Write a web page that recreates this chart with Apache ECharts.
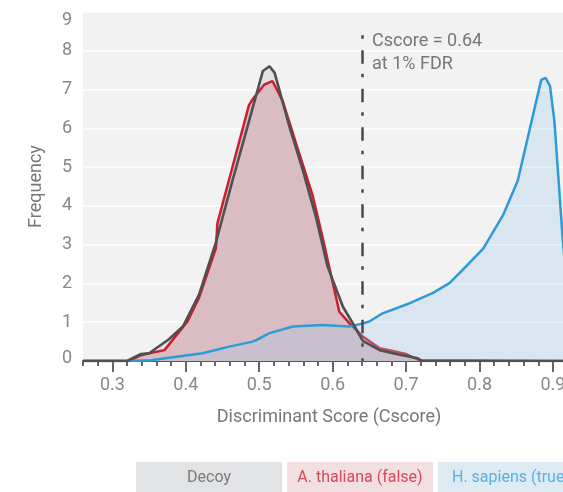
<!DOCTYPE html>
<html>
<head>
<meta charset="utf-8">
<script src="https://cdn.jsdelivr.net/npm/echarts@6/dist/echarts.min.js"></script>
<style>
html,body{margin:0;padding:0;background:#fff;}
#chart{width:563px;height:492px;}
</style>
</head>
<body>
<div id="chart"></div>
<script>
// ---- data ----
const seriesNames = ['Decoy', 'A. thaliana (false)', 'H. sapiens (true)'];

const decoyScore = [0.26, 0.32, 0.339, 0.35, 0.377, 0.396, 0.418, 0.441, 0.464, 0.486, 0.505, 0.514, 0.521, 0.541, 0.559, 0.577, 0.593, 0.614, 0.630, 0.641, 0.664, 0.691, 0.716, 0.722, 0.93];
const decoyFreq  = [0,    0,    0.18,  0.20, 0.56,  0.89,  1.71,  3.06,  4.68,  6.18,  7.48,  7.60,  7.43,  6.05,  4.94,  3.73,  2.44,  1.40,  0.89,  0.52,  0.28,  0.16,  0.07,  0,     0];

const thalScore = [0.26, 0.323, 0.339, 0.35, 0.371, 0.402, 0.418, 0.441, 0.443, 0.459, 0.486, 0.491, 0.507, 0.518, 0.532, 0.55, 0.573, 0.586, 0.609, 0.623, 0.641, 0.664, 0.70, 0.718, 0.93];
const thalFreq  = [0,    0,     0.15,  0.20, 0.28,  1.01,  1.63,  2.91,  3.55,  4.68,  6.60,  6.75,  7.13,  7.22,  6.70,  5.62, 4.25,  3.21,  1.27,  0.97,  0.63,  0.33,  0.18, 0.02,  0];

const sapScore = [0.26, 0.323, 0.352, 0.423, 0.459, 0.491, 0.496, 0.514, 0.546, 0.586, 0.623, 0.641, 0.65, 0.668, 0.705, 0.736, 0.759, 0.777, 0.805, 0.832, 0.852, 0.884, 0.89, 0.896, 0.902, 0.913, 0.925, 0.93];
const sapFreq  = [0,    0,     0.02,  0.20,  0.37,  0.50,  0.54,  0.72,  0.89,  0.93,  0.89,  0.97,  1.02, 1.23,  1.49,  1.75,  2.01,  2.35,  2.90,  3.76,  4.65,  7.25,  7.30, 7.09,  6.18,  3.21,  0.60,  0.30];

const majorTicks = [0.3, 0.4, 0.5, 0.6, 0.7, 0.8, 0.9];
const minorTicks = [0.26, 0.28, 0.30, 0.32, 0.34, 0.36, 0.38, 0.40, 0.42, 0.44, 0.46, 0.48, 0.50, 0.52, 0.54, 0.56, 0.58, 0.60, 0.62, 0.64, 0.66, 0.68, 0.70, 0.72, 0.74, 0.76, 0.78, 0.80, 0.82, 0.84, 0.86, 0.88, 0.90, 0.92];

const cutoffScore = 0.64;
const cutoffTop = 8.4;
const cutoffText = ['Cscore = 0.64', 'at 1% FDR'];

function pairs(xs, ys) { return xs.map((x, i) => [x, ys[i]]); }

const FONT = 'Roboto';
const chart = echarts.init(document.getElementById('chart'), null, {renderer: 'canvas'});

const richLegend = {
  d: {width: 146, height: 32, lineHeight: 32, align: 'center', backgroundColor: '#e2e3e5', color: '#7a7a7a', fontSize: 16, fontFamily: FONT},
  a: {width: 146, height: 32, lineHeight: 32, align: 'center', backgroundColor: '#f1dfe2', color: '#d24a5c', fontSize: 16, fontFamily: FONT},
  h: {width: 146, height: 32, lineHeight: 32, align: 'center', backgroundColor: '#deebf3', color: '#5aafe3', fontSize: 16, fontFamily: FONT}
};
const legendKey = {};
legendKey[seriesNames[0]] = 'd';
legendKey[seriesNames[1]] = 'a';
legendKey[seriesNames[2]] = 'h';

const option = {
  animation: false,
  backgroundColor: '#ffffff',
  textStyle: {fontFamily: FONT},
  grid: {left: 83, right: -12, top: 12, bottom: 131, show: true, backgroundColor: '#f2f2f2', borderWidth: 0,
         containLabel: false, outerBoundsMode: 'none'},
  legend: {
    data: seriesNames,
    left: 131, top: 462, width: 700, padding: 0, itemGap: 0,
    itemWidth: 0, itemHeight: 0, icon: 'rect',
    selectedMode: false,
    formatter: function (name) { return '{' + legendKey[name] + '|' + name + '}'; },
    textStyle: {fontFamily: FONT, fontSize: 16, rich: richLegend}
  },
  xAxis: [
    {
      type: 'value', min: 0.26, max: 0.93, position: 'bottom',
      name: 'Discriminant Score (Cscore)', nameLocation: 'middle', nameGap: 47,
      nameTextStyle: {fontSize: 18, color: '#777', fontFamily: FONT},
      axisLine: {show: true, lineStyle: {color: '#555', width: 2}},
      axisTick: {show: true, customValues: majorTicks, length: 11, lineStyle: {color: '#666', width: 2}},
      axisLabel: {customValues: majorTicks, formatter: v => v.toFixed(1), margin: 15, fontSize: 18, color: '#888', fontFamily: FONT},
      splitLine: {show: false}
    },
    {
      type: 'value', min: 0.26, max: 0.93, position: 'bottom',
      axisLine: {show: false},
      axisTick: {show: true, customValues: minorTicks, length: 5, lineStyle: {color: '#666', width: 2}},
      axisLabel: {show: false},
      splitLine: {show: false}
    }
  ],
  yAxis: {
    type: 'value', min: 0, max: 9, interval: 1,
    name: 'Frequency', nameLocation: 'middle', nameGap: 38,
    nameTextStyle: {fontSize: 18, color: '#777', fontFamily: FONT},
    axisLine: {show: false}, axisTick: {show: false},
    axisLabel: {
      margin: 11, fontSize: 18, color: '#888', fontFamily: FONT,
      formatter: v => v === 0 ? '{lo|0}' : (v === 9 ? '{hi|9}' : String(v)),
      rich: {
        lo: {padding: [0, 0, 5, 0], fontSize: 18, color: '#888', fontFamily: FONT},
        hi: {padding: [16, 0, 0, 0], fontSize: 18, color: '#888', fontFamily: FONT}
      }
    },
    splitLine: {show: true, lineStyle: {color: '#ffffff', width: 1.5}}
  },
  series: [
    {
      name: seriesNames[0], type: 'line', data: pairs(decoyScore, decoyFreq),
      showSymbol: false, symbol: 'none', z: 1,
      lineStyle: {width: 0, color: '#505050'}, itemStyle: {color: '#505050'},
      areaStyle: {color: '#e1e1e3', opacity: 1}
    },
    {
      name: seriesNames[1], type: 'line', data: pairs(thalScore, thalFreq),
      showSymbol: false, symbol: 'none', z: 2,
      lineStyle: {width: 2.5, color: '#c8202f'}, itemStyle: {color: '#c8202f'},
      areaStyle: {color: '#dabdc2', opacity: 1}
    },
    {
      name: seriesNames[2], type: 'line', data: pairs(sapScore, sapFreq),
      showSymbol: false, symbol: 'none', z: 3,
      lineStyle: {width: 2.5, color: '#2e9bd6'}, itemStyle: {color: '#2e9bd6'},
      areaStyle: {color: 'rgba(150,200,232,0.27)', opacity: 1}
    },
    {
      name: seriesNames[0], type: 'line', data: pairs(decoyScore, decoyFreq),
      showSymbol: false, symbol: 'none', z: 4,
      lineStyle: {width: 2.6, color: '#505050'}, itemStyle: {color: '#505050'},
      markLine: {
        silent: true, symbol: 'none', animation: false,
        label: {show: false},
        lineStyle: {color: '#4a4a4a', width: 2.5, type: [3.5, 11.5, 13.5, 10]},
        data: [[{coord: [cutoffScore, cutoffTop]}, {coord: [cutoffScore, 0]}]]
      },
      markPoint: {
        silent: true, symbol: 'circle', symbolSize: 0,
        label: {
          show: true, position: [10, -5], align: 'left', verticalAlign: 'top',
          formatter: cutoffText.join('\n'), lineHeight: 23,
          fontSize: 18, color: '#777', fontFamily: FONT
        },
        data: [{coord: [cutoffScore, cutoffTop]}]
      }
    }
  ]
};
chart.setOption(option);
</script>
</body>
</html>
